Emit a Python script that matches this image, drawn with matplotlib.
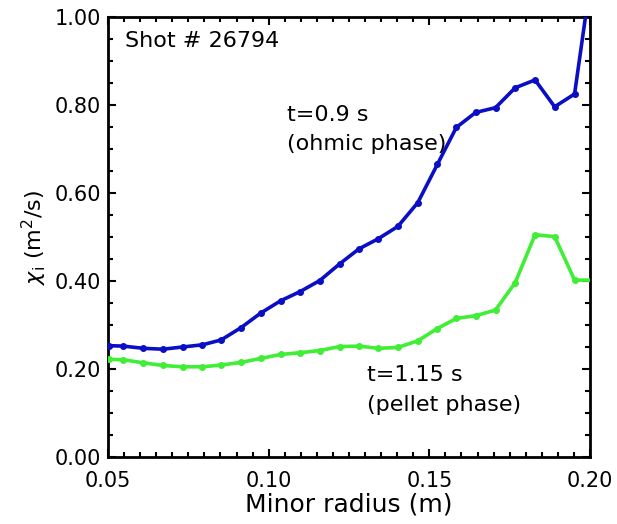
import matplotlib
matplotlib.use("Agg")
import matplotlib.pyplot as plt
from matplotlib.ticker import MultipleLocator, FormatStrFormatter

# minor radius grid (m), same for both profiles
radius = [0.0503, 0.0548, 0.0610, 0.0671, 0.0732, 0.0794, 0.0852, 0.0914,
          0.0975, 0.1037, 0.1098, 0.1159, 0.1221, 0.1281, 0.1341, 0.1402,
          0.1464, 0.1525, 0.1584, 0.1644, 0.1706, 0.1767, 0.1829, 0.1890,
          0.1952, 0.2013]

# chi_i at t=0.9 s (ohmic phase)
chi_ohmic = [0.253, 0.252, 0.247, 0.245, 0.250, 0.255, 0.266, 0.294,
             0.327, 0.355, 0.376, 0.401, 0.439, 0.473, 0.496, 0.524,
             0.578, 0.665, 0.749, 0.783, 0.794, 0.839, 0.857, 0.796,
             0.825, 1.14]

# chi_i at t=1.15 s (pellet phase)
chi_pellet = [0.222, 0.221, 0.214, 0.208, 0.205, 0.205, 0.209, 0.215,
              0.224, 0.233, 0.237, 0.242, 0.251, 0.252, 0.247, 0.249,
              0.264, 0.292, 0.315, 0.321, 0.334, 0.396, 0.505, 0.501,
              0.402, 0.402]

blue = "#0a0ec4"
green = "#40ee36"

fig = plt.figure(figsize=(6.17, 5.24), dpi=100)
ax = fig.add_axes([108/617, 1 - 457/524, 482/617, 440/524])

ax.plot(radius, chi_ohmic, color=blue, lw=2.6, marker="o", ms=4, zorder=3)
ax.plot(radius, chi_pellet, color=green, lw=2.6, marker="o", ms=4, zorder=3)

ax.set_xlim(0.05, 0.20)
ax.set_ylim(0.0, 1.0)
ax.xaxis.set_major_locator(MultipleLocator(0.05))
ax.xaxis.set_minor_locator(MultipleLocator(0.005))
ax.yaxis.set_major_locator(MultipleLocator(0.2))
ax.yaxis.set_minor_locator(MultipleLocator(0.05))
ax.xaxis.set_major_formatter(FormatStrFormatter("%.2f"))
ax.yaxis.set_major_formatter(FormatStrFormatter("%.2f"))

ax.tick_params(which="both", direction="in", top=True, right=True,
               width=1.5, labelsize=15)
ax.tick_params(which="major", length=6)
ax.tick_params(which="minor", length=3.5)
ax.tick_params(axis="y", which="major", pad=5)
ax.tick_params(axis="x", which="major", pad=10)
for s in ax.spines.values():
    s.set_linewidth(2)

ax.set_xlabel("Minor radius (m)", fontsize=18, labelpad=1)
ax.set_ylabel(r"$\chi_\mathrm{i}$ (m$^2$/s)", fontsize=16, labelpad=4)

ax.text(0.0553, 0.932, "Shot # 26794", fontsize=16, va="baseline")
ax.text(0.1056, 0.764, "t=0.9 s", fontsize=16, va="baseline")
ax.text(0.1056, 0.698, "(ohmic phase)", fontsize=16, va="baseline")
ax.text(0.1306, 0.173, "t=1.15 s", fontsize=16, va="baseline")
ax.text(0.1306, 0.104, "(pellet phase)", fontsize=16, va="baseline")

fig.savefig("out.png", dpi=100)
